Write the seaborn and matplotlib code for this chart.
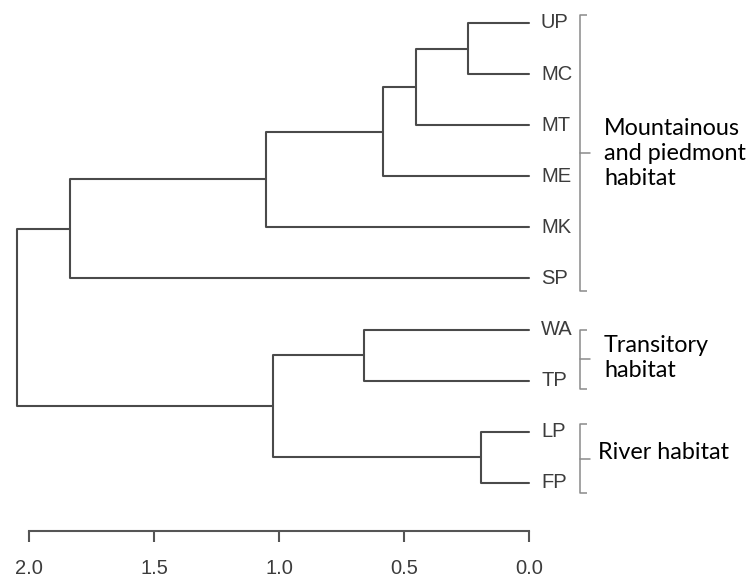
import numpy as np
import pandas as pd
import matplotlib
matplotlib.use("Agg")
import matplotlib.pyplot as plt
import seaborn as sns

# Leaf order (top to bottom) and agglomeration steps of the cluster tree.
leaves = ["UP", "MC", "MT", "ME", "MK", "SP", "WA", "TP", "LP", "FP"]
# Children use scipy-style ids: 0..9 are leaves, 10+k is the cluster from step k.
merge_left = [0, 10, 11, 12, 13, 6, 8, 15, 14]
merge_right = [1, 2, 3, 4, 5, 7, 9, 16, 17]
merge_height = [0.245, 0.452, 0.584, 1.052, 1.836, 0.660, 0.192, 1.024, 2.048]

axis_ticks = [2.0, 1.5, 1.0, 0.5, 0.0]
axis_tick_labels = ["2.0", "1.5", "1.0", "0.5", "0.0"]

# Habitat groups: label and bracket extent (in leaf units)
group_labels = ["Mountainous\nand piedmont\nhabitat", "Transitory\nhabitat", "River habitat"]
group_spans = [(-0.16, 5.25), (6.0, 7.17), (7.85, 9.2)]

# Build the dendrogram segments from the merge table
n = len(leaves)
node_pos = {i: (0.0, float(i)) for i in range(n)}
rows = []
for k, (a, b, h) in enumerate(zip(merge_left, merge_right, merge_height)):
    xa, ya = node_pos[a]
    xb, yb = node_pos[b]
    for px, py in [(xa, ya), (h, ya), (h, yb), (xb, yb)]:
        rows.append({"link": k, "height": px, "pos": py})
    node_pos[n + k] = (h, (ya + yb) / 2)
links = pd.DataFrame(rows)

sns.set_theme(style="white")
plt.rcParams["font.family"] = ["Liberation Sans", "DejaVu Sans"]

fig = plt.figure(figsize=(7.52, 5.78), dpi=100)
ax = fig.add_axes([0, 0, 1, 1])

line_col = "#4a4a4a"
sns.lineplot(data=links, x="height", y="pos", units="link", estimator=None,
             sort=False, color=line_col, linewidth=1.5, ax=ax, legend=False)

ax.set_xlim(2.116, -0.892)
ax.set_ylim(10.861, -0.450)

# Leaf labels
for i, name in enumerate(leaves):
    ax.text(-0.048, i, name, ha="left", va="center", fontsize=14.5,
            color="#3c3c3c")

# Distance axis
for side in ["top", "left", "right"]:
    ax.spines[side].set_visible(False)
ax.spines["bottom"].set_visible(True)
ax.spines["bottom"].set_position(("data", 9.94))
ax.spines["bottom"].set_bounds(0.0, 2.0)
ax.spines["bottom"].set_color("#555555")
ax.spines["bottom"].set_linewidth(1.5)
ax.set_xticks(axis_ticks)
ax.set_xticklabels(axis_tick_labels)
ax.tick_params(axis="x", direction="out", length=8, width=1.5, color="#555555",
               pad=12, labelsize=14.5, labelcolor="#3c3c3c", bottom=True)
ax.set_yticks([])
ax.set_xlabel("")
ax.set_ylabel("")

# Habitat brackets
br_col = "#8a8a8a"
bx = -0.205
for (y0, y1), lab in zip(group_spans, group_labels):
    ax.plot([bx - 0.028, bx, bx, bx - 0.028], [y0, y0, y1, y1], color=br_col,
            linewidth=1.1, solid_capstyle="butt")
    ym = (y0 + y1) / 2
    ax.plot([bx, bx - 0.04], [ym, ym], color=br_col, linewidth=1.1)

hab_font = ["Lato", "DejaVu Sans"]
ax.text(-0.30, 2.55, group_labels[0], ha="left", va="center", fontsize=16.8,
        family=hab_font, color="black", linespacing=1.25)
ax.text(-0.30, 6.55, group_labels[1], ha="left", va="center", fontsize=16.8,
        family=hab_font, color="black", linespacing=1.25)
ax.text(-0.276, 8.41, group_labels[2], ha="left", va="center", fontsize=16.8,
        family=hab_font, color="black")

fig.savefig("out.png", dpi=100, facecolor="white")
